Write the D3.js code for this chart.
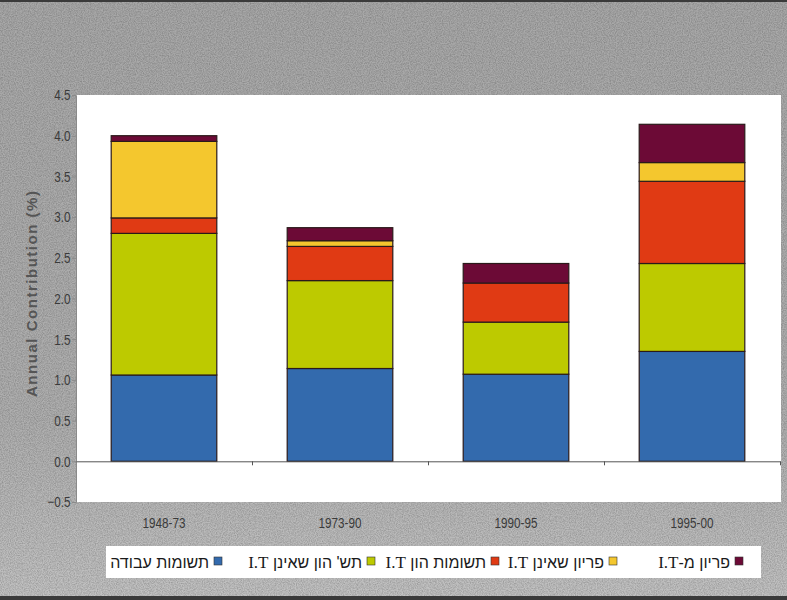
<!DOCTYPE html>
<html>
<head>
<meta charset="utf-8">
<script src="https://cdn.jsdelivr.net/npm/d3@7"></script>
<style>
  html, body { margin: 0; padding: 0; background: #ffffff; }
  svg { display: block; }
</style>
</head>
<body>
<svg id="chart" width="787" height="600"></svg>
<script>
// Periods on the x axis
const periods = ["1948-73", "1973-90", "1990-95", "1995-00"];

// Contribution of each source to annual growth (%), stacked bottom to top
const laborInput      = [1.06, 1.14, 1.07, 1.35];   // תשומות עבודה
const nonItCapital    = [1.74, 1.08, 0.64, 1.08];   // תש' הון שאינן I.T
const itCapital       = [0.19, 0.42, 0.48, 1.01];   // תשומות הון I.T
const nonItProd       = [0.94, 0.07, 0.00, 0.23];   // פריון שאינן I.T
const itProd          = [0.07, 0.16, 0.24, 0.47];   // פריון מ-I.T

const seriesKeys   = ["labor", "nonItCap", "itCap", "nonItProd", "itProd"];
// Legend names: Hebrew part and optional "I.T" part (set in a serif face)
const seriesHeb    = ["תשומות עבודה", "תש' הון שאינן ", "תשומות הון ", "פריון שאינן ", "פריון מ-"];
const seriesLatin  = ["", "I.T", "I.T", "I.T", "I.T"];
const seriesColors = ["#336aad", "#bdca00", "#e03a14", "#f4c72e", "#6c0a36"];

const yTicks = [-0.5, 0, 0.5, 1, 1.5, 2, 2.5, 3, 3.5, 4, 4.5];

const rows = periods.map((p, i) => ({
  period: p,
  labor: laborInput[i],
  nonItCap: nonItCapital[i],
  itCap: itCapital[i],
  nonItProd: nonItProd[i],
  itProd: itProd[i]
}));

const svg = d3.select("#chart");
const W = 787, H = 600;
const plot = { left: 76, right: 780, top: 95, bottom: 502 };

// Textured grey backdrop
const defs = svg.append("defs");
const grad = defs.append("linearGradient").attr("id", "bgGrad")
  .attr("x1", 0).attr("y1", 0).attr("x2", 0).attr("y2", 1);
grad.append("stop").attr("offset", "0%").attr("stop-color", "#a8a8a8");
grad.append("stop").attr("offset", "70%").attr("stop-color", "#afafaf");
grad.append("stop").attr("offset", "100%").attr("stop-color", "#c2c2c2");

const grain = defs.append("filter").attr("id", "grain")
  .attr("x", 0).attr("y", 0).attr("width", "100%").attr("height", "100%");
grain.append("feTurbulence").attr("type", "fractalNoise")
  .attr("baseFrequency", 0.85).attr("numOctaves", 2).attr("seed", 3);
grain.append("feColorMatrix").attr("type", "matrix")
  .attr("values", "0 0 0 0 0  0 0 0 0 0  0 0 0 0 0  0 0 0 -1.6 1.1");

svg.append("rect").attr("width", W).attr("height", H).attr("fill", "url(#bgGrad)");
svg.append("rect").attr("width", W).attr("height", H)
  .attr("filter", "url(#grain)").attr("opacity", 0.22);

// Dark frame lines along the top and bottom edges
svg.append("rect").attr("x", 0).attr("y", 0).attr("width", W).attr("height", 2).attr("fill", "#3a3a3a");
svg.append("rect").attr("x", 0).attr("y", 596).attr("width", W).attr("height", 4).attr("fill", "#3a3a3a");

// White plot area
svg.append("rect")
  .attr("x", plot.left).attr("y", plot.top)
  .attr("width", plot.right - plot.left + 1).attr("height", plot.bottom - plot.top)
  .attr("fill", "#ffffff");

// Scales
const x = d3.scaleBand()
  .domain(periods)
  .range([plot.left, plot.right])
  .paddingInner(0.4)
  .paddingOuter(0.2);

const y = d3.scaleLinear()
  .domain([-0.5, 4.5])
  .range([plot.bottom, plot.top]);

// Stacked bars
const stack = d3.stack().keys(seriesKeys);
const layers = stack(rows);

const color = d3.scaleOrdinal().domain(seriesKeys).range(seriesColors);

svg.append("g").selectAll("g")
  .data(layers)
  .join("g")
    .attr("fill", d => color(d.key))
  .selectAll("rect")
  .data(d => d.filter(s => s[1] - s[0] > 0))
  .join("rect")
    .attr("x", d => x(d.data.period))
    .attr("width", x.bandwidth())
    .attr("y", d => y(d[1]))
    .attr("height", d => y(d[0]) - y(d[1]))
    .attr("stroke", "#2a1a1a")
    .attr("stroke-width", 1.2);

// Y axis (condensed numerals)
const tickFont = "'Liberation Sans', Arial, sans-serif";
const yAxis = svg.append("g")
  .attr("transform", `translate(${plot.left},0)`)
  .call(d3.axisLeft(y).tickValues(yTicks).tickFormat(d3.format(".1f")).tickSize(4).tickPadding(3));
yAxis.select(".domain").attr("stroke", "#8a8a8a");
yAxis.selectAll(".tick line").attr("stroke", "#8a8a8a");
yAxis.selectAll(".tick text")
  .attr("fill", "#3a3a3a")
  .attr("transform", "scale(0.78,1)")
  .style("font-family", tickFont)
  .style("font-size", "15px");

// Zero line with category separators
const sepScale = d3.scaleLinear().domain([0, periods.length]).range([plot.left, plot.right]);
const zeroAxis = svg.append("g")
  .attr("transform", `translate(0,${y(0)})`)
  .call(d3.axisBottom(sepScale).tickValues(d3.range(1, periods.length + 1)).tickSize(4).tickSizeOuter(0).tickFormat(""));
zeroAxis.select(".domain").attr("stroke", "#555555");
zeroAxis.selectAll(".tick line").attr("stroke", "#555555");

// Category labels below the plot area
svg.append("g").selectAll("text")
  .data(periods)
  .join("text")
    .attr("transform", d => `translate(${x(d) + x.bandwidth() / 2},528) scale(0.78,1)`)
    .attr("text-anchor", "middle")
    .attr("fill", "#3a3a3a")
    .style("font-family", tickFont)
    .style("font-size", "15px")
    .text(d => d);

// Y axis title
svg.append("text")
  .attr("transform", "translate(37,294) rotate(-90)")
  .attr("text-anchor", "middle")
  .attr("fill", "#555555")
  .attr("textLength", 206)
  .attr("lengthAdjust", "spacing")
  .style("font-family", "'Liberation Sans', Arial, sans-serif")
  .style("font-weight", "bold")
  .style("font-size", "15px")
  .text("Annual Contribution (%)");

// Legend (right-to-left, top series first)
const legend = svg.append("g");
legend.append("rect")
  .attr("x", 106).attr("y", 546).attr("width", 655).attr("height", 32)
  .attr("fill", "#ffffff");

const legendRight = [743, 617, 499, 375, 222];
const legendOrder = [4, 3, 2, 1, 0];
legendOrder.forEach((si, j) => {
  const rx = legendRight[j];
  legend.append("rect")
    .attr("x", rx - 8).attr("y", 557).attr("width", 8).attr("height", 8)
    .attr("fill", seriesColors[si])
    .attr("stroke", "#333").attr("stroke-width", 0.6);
  const t = legend.append("text")
    .attr("x", rx - 13).attr("y", 568)
    .attr("direction", "rtl")
    .attr("text-anchor", "start")
    .attr("fill", "#1a1a1a")
    .style("font-family", "'Liberation Sans', Arial, sans-serif")
    .style("font-size", "16px");
  t.append("tspan").text(seriesHeb[si]);
  if (seriesLatin[si]) {
    t.append("tspan")
      .style("font-family", "'Liberation Serif', 'Times New Roman', serif")
      .style("font-size", "17px")
      .text(seriesLatin[si]);
  }
});
</script>
</body>
</html>
